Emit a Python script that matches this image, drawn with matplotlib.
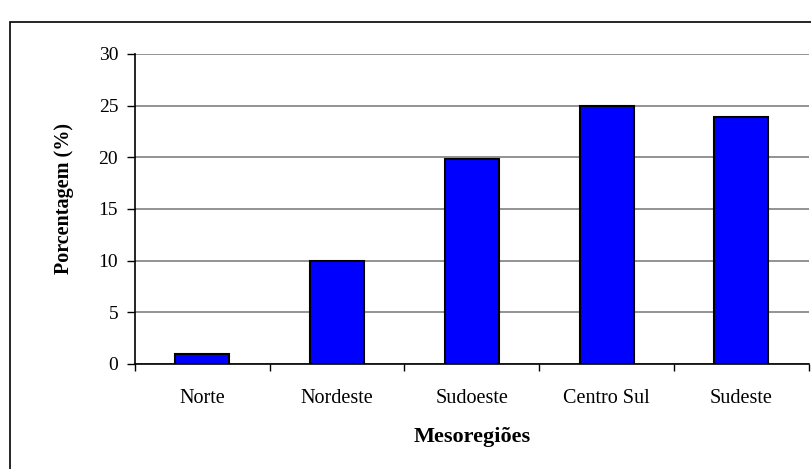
import matplotlib
matplotlib.use('Agg')
from matplotlib import pyplot as plt
from matplotlib.patches import Rectangle
import numpy as np

regioes = ['Norte', 'Nordeste', 'Sudoeste', 'Centro Sul', 'Sudeste']
porcentagem = [1.0, 10.0, 19.8, 25.0, 23.85]
y_ticks = [0, 5, 10, 15, 20, 25, 30]

plt.rcParams['font.family'] = ['Liberation Serif', 'DejaVu Serif']

fig = plt.figure(figsize=(8.12, 4.69), dpi=100)
ax = fig.add_axes([0.166, 0.224, 0.83, 0.661])

x = np.arange(len(regioes))
ax.bar(x, porcentagem, width=0.4, color='#0000ff', edgecolor='black', linewidth=1.5, zorder=3)

ax.set_xlim(-0.5, len(regioes) - 0.5)
ax.set_ylim(0, 30)
ax.set_yticks(y_ticks)
ax.yaxis.grid(True, color='#808080', linewidth=1.2, zorder=0)

ax.set_xticks(x)
ax.set_xticklabels(regioes, fontsize=14.5)
ax.set_xticks(np.arange(-0.5, len(regioes)), minor=True)
ax.tick_params(axis='x', which='major', length=0, pad=18)
ax.tick_params(axis='x', which='minor', length=5, width=1, color='black')
ax.tick_params(axis='y', length=6, width=1, labelsize=14, pad=6)

for s in ['top', 'right']:
    ax.spines[s].set_visible(False)
ax.spines['left'].set_linewidth(1.2)
ax.spines['bottom'].set_linewidth(1.2)

ax.set_xlabel('Mesoregiões', fontsize=16, fontweight='bold', labelpad=14)
ax.set_ylabel('Porcentagem (%)', fontsize=14.5, fontweight='bold', labelpad=18)
ax.yaxis.label.set_y(0.535)

# moldura externa do gráfico
fig.patches.append(Rectangle((10 / 812, -0.1), 1.1, 0.953 + 0.1, transform=fig.transFigure,
                             fill=False, edgecolor='black', linewidth=1.2, clip_on=False))

plt.savefig('out.png', dpi=100)
